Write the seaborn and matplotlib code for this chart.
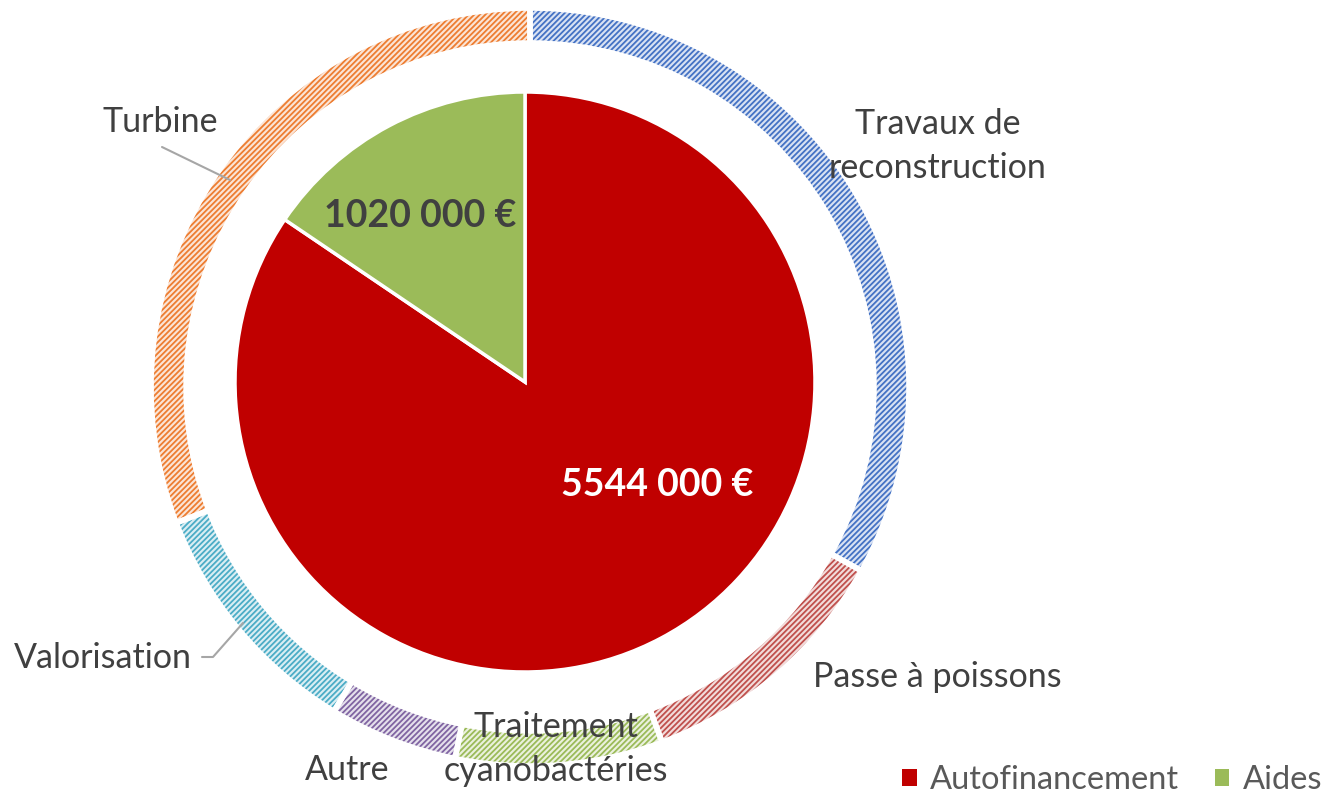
import matplotlib
matplotlib.use("Agg")
import matplotlib.pyplot as plt
import seaborn as sns
from matplotlib.patches import Patch

# inner pie: financing
fin_labels = ["Autofinancement", "Aides"]
fin_values = [5544000, 1020000]
fin_texts = ["5544 000 €", "1020 000 €"]

# outer ring: cost items
cost_labels = ["Travaux de\nreconstruction", "Passe à poissons", "Traitement\ncyanobactéries",
               "Autre", "Valorisation", "Turbine"]
cost_values = [2170000, 740000, 580000, 360000, 690000, 2024000]

sns.set_theme(style="white")
plt.rcParams["font.family"] = ["Lato", "DejaVu Sans"]
plt.rcParams["hatch.linewidth"] = 1.3

W, H = 1332, 795
fig = plt.figure(figsize=(W / 100, H / 100), dpi=100)
ax = fig.add_axes([0, 0, 1, 1])

def py(y):
    return H - y

fin_colors = ["#C00000", "#9BBB59"]
ring_colors = ["#4472C4", "#C0504D", "#9BBB59", "#8064A2", "#4BACC6", "#ED7D31"]
ring_light = ["#D9E2F3", "#F2DCDB", "#EBF1DE", "#E5E0EC", "#DAEEF3", "#FBE5D6"]

pie_c = (525, py(382))
ring_c = (530, py(387))
R_ring = 377
w_ring = 31

# inner pie
wedges, _ = ax.pie(fin_values, colors=fin_colors, startangle=90, counterclock=False,
                   radius=290, center=pie_c,
                   wedgeprops=dict(edgecolor="white", linewidth=2.5))

# outer ring, hatched
ring, _ = ax.pie(cost_values, colors=ring_light, startangle=90, counterclock=False,
                 radius=R_ring, center=ring_c,
                 wedgeprops=dict(width=w_ring, linewidth=0))
for wdg, c in zip(ring, ring_colors):
    wdg.set_edgecolor(c)
    wdg.set_hatch("//////")
# white gaps between ring segments
ax.pie(cost_values, colors=["none"] * 6, startangle=90, counterclock=False,
       radius=R_ring + 2, center=ring_c,
       wedgeprops=dict(width=w_ring + 4, edgecolor="white", linewidth=4, facecolor="none"))

# value labels
ax.text(657, py(485), fin_texts[0], color="white", fontsize=27, fontweight="bold",
        ha="center", va="center")
ax.text(420, py(216), fin_texts[1], color="#404040", fontsize=27, fontweight="bold",
        ha="center", va="center")

# category labels
lab_pos = [(938, 146), (937, 677), (556, 749), (347, 770), (103, 658), (160, 122)]
for txt, (x, y) in zip(cost_labels, lab_pos):
    ax.text(x, py(y), txt, color="#404040", fontsize=24.5, ha="center", va="center",
            linespacing=1.45)

# leader lines
ax.plot([162, 230], [py(147), py(180)], color="#A6A6A6", lw=1.5)
ax.plot([202, 213, 243], [py(657), py(657), py(623)], color="#A6A6A6", lw=1.5)

# legend
handles = [Patch(facecolor=c, edgecolor="none") for c in fin_colors]
leg = ax.legend(handles, fin_labels, loc="center", bbox_to_anchor=(1112 / W, 1 - 780 / H),
                ncol=2, frameon=False, fontsize=23.5, handlelength=0.45, handleheight=0.45,
                handletextpad=0.4, columnspacing=1.1)
for t in leg.get_texts():
    t.set_color("#595959")

ax.set_xlim(0, W)
ax.set_ylim(0, H)
ax.set_aspect("equal")
ax.axis("off")

fig.savefig("out.png", dpi=100)
